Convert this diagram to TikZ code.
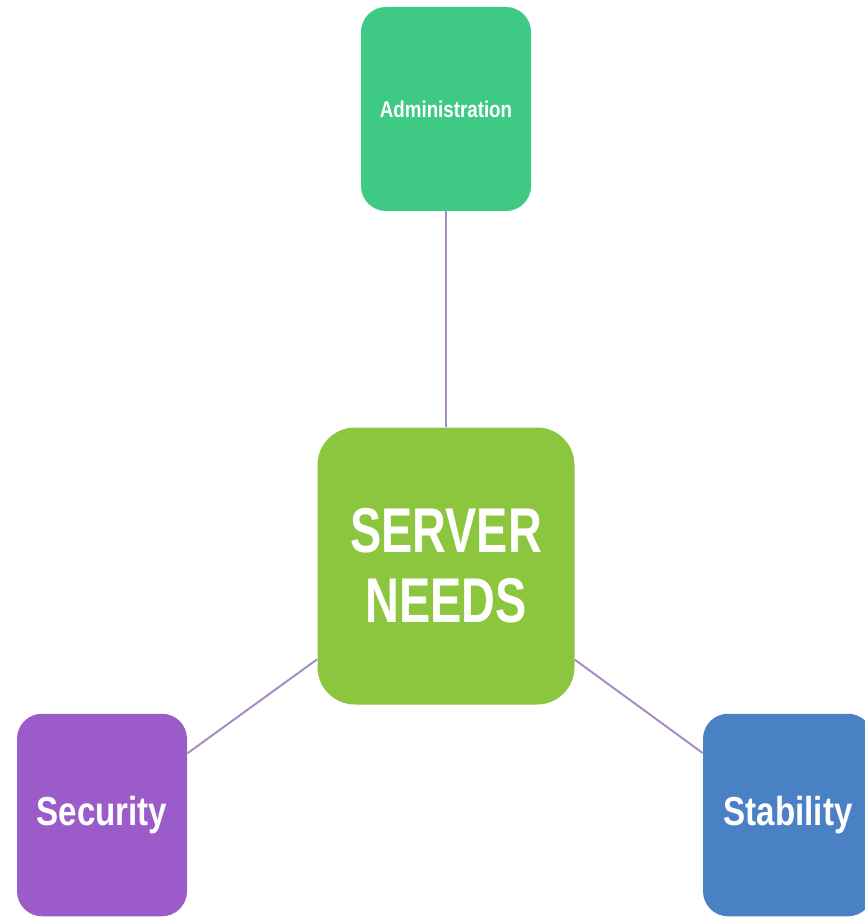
\documentclass[tikz,border=0pt]{standalone}
\usepackage{fontspec}
\setmainfont{Liberation Sans}[FakeStretch=0.82]
\newfontfamily\hubfont{Liberation Sans}[FakeStretch=0.74]
\usepackage{tikz}
\usetikzlibrary{positioning}
\definecolor{adminGreen}{HTML}{3EC985}
\definecolor{serverGreen}{HTML}{8CC63F}
\definecolor{secPurple}{HTML}{9B5CC9}
\definecolor{stabBlue}{HTML}{4A80C4}
\definecolor{linkLilac}{HTML}{A68BC2}
\tikzstyle{needBox} = [rectangle, rounded corners=0.5cm, minimum width=3.4cm, minimum height=4.05cm, text=white, align=center, inner sep=0pt]
\tikzstyle{hubBox} = [rectangle, rounded corners=0.75cm, minimum width=5.14cm, minimum height=5.54cm, text=white, align=center, inner sep=0pt]
\tikzstyle{link} = [line width=1.1pt, draw=linkLilac]
\begin{document}
\begin{tikzpicture}
    \useasboundingbox [fill=white] (0,0) rectangle (17.28,-18.34);
    \node (server) [hubBox, fill=serverGreen, font=\hubfont\bfseries\fontsize{36}{40}\selectfont] at (8.92,-11.32) {SERVER\\NEEDS};
    \node (admin) [needBox, fill=adminGreen, minimum height=4.08cm, font=\bfseries\fontsize{13}{15}\selectfont] at (8.92,-2.18) {Administration};
    \node (security) [needBox, fill=secPurple, font=\bfseries\fontsize{23}{27}\selectfont] at (2.04,-16.3) {Security};
    \node (stability) [needBox, fill=stabBlue, font=\bfseries\fontsize{23}{27}\selectfont] at (15.76,-16.3) {Stability};
    \draw [link] (admin) -- (server);
    \draw [link] (server) -- (security);
    \draw [link] (server) -- (stability);
\end{tikzpicture}
\end{document}
